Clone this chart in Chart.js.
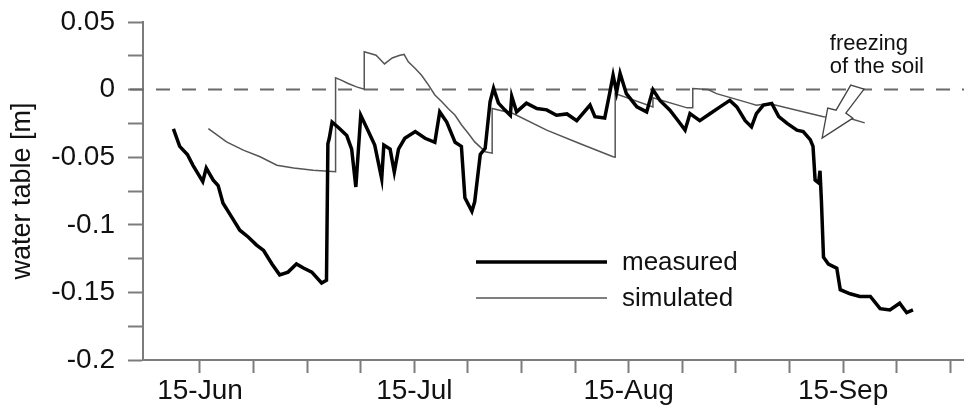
<!DOCTYPE html>
<html>
<head>
<meta charset="utf-8">
<script src="https://cdn.jsdelivr.net/npm/chart.js@4.4.1/dist/chart.umd.min.js"></script>
<style>
  html, body { margin: 0; padding: 0; background: #fff; }
  #wrap { width: 964px; height: 410px; }
</style>
</head>
<body>
<div id="wrap"><canvas id="chart" width="964" height="410"></canvas></div>
<script>
// x = days counted from 1-Jun
const xTicks = [14, 21.67, 29.33, 37, 44.67, 52.33, 60, 67.67, 75.33, 83, 90.67, 98.33, 106, 113.67, 121.33];
const xTickLabels = ["15-Jun", "", "", "", "15-Jul", "", "", "", "15-Aug", "", "", "", "15-Sep", "", ""];
const yTicks = [-0.2, -0.175, -0.15, -0.125, -0.1, -0.075, -0.05, -0.025, 0, 0.025, 0.05];
const yTickLabels = ["-0.2", "", "-0.15", "", "-0.1", "", "-0.05", "", "0", "", "0.05"];

const measuredDay = [
  10.2, 11.1, 12.2, 13.0, 14.4, 14.9, 15.9, 16.6, 17.3, 18.5, 19.7, 20.9, 22.1, 23.1, 24.3, 25.4,
  26.6, 27.8, 28.8, 30.0, 31.4, 32.1, 32.3, 32.5, 32.9, 33.8, 35.0, 35.7, 36.3, 37.0, 38.1, 39.0,
  40.0, 40.3, 41.2, 41.8, 42.4, 43.3, 44.8, 46.2, 47.6, 48.3, 49.3, 50.5, 51.4, 51.9, 52.9, 53.3,
  54.1, 54.8, 55.5, 56.0, 56.7, 57.6, 58.4, 58.6, 59.3, 60.7, 62.2, 63.6, 65.0, 66.5, 67.9, 69.8,
  70.5, 71.9, 72.6, 73.1, 73.6, 74.1, 75.0, 76.5, 77.9, 78.8, 79.8, 81.2, 82.4, 83.4, 84.1, 85.5,
  87.0, 88.4, 89.8, 90.8, 92.0, 92.9, 93.6, 94.6, 95.8, 96.8, 98.0, 99.4, 100.3, 101.3, 101.7, 102.0,
  102.5, 102.7, 102.9, 103.2, 103.9, 105.1, 105.6, 107.0, 108.4, 109.9, 111.3, 112.7, 114.1, 115.1, 116.0
];
const measuredLevel = [
  -0.029, -0.042, -0.048, -0.056, -0.068, -0.058, -0.067, -0.071, -0.084, -0.094, -0.104, -0.109, -0.115, -0.119, -0.129, -0.137,
  -0.135, -0.129, -0.132, -0.135, -0.143, -0.141, -0.040, -0.036, -0.024, -0.028, -0.034, -0.044, -0.072, -0.019, -0.031, -0.041,
  -0.066, -0.041, -0.044, -0.061, -0.044, -0.036, -0.031, -0.036, -0.039, -0.0165, -0.024, -0.039, -0.042, -0.080, -0.090, -0.083,
  -0.048, -0.0435, -0.009, 0.001, -0.010, -0.015, -0.019, -0.005, -0.0165, -0.010, -0.014, -0.015, -0.019, -0.018, -0.023, -0.0115,
  -0.020, -0.021, -0.003, 0.0106, -0.002, 0.012, -0.003, -0.0128, -0.0165, 0.000, -0.008, -0.015, -0.023, -0.030, -0.0177, -0.023,
  -0.0177, -0.0128, -0.008, -0.0128, -0.023, -0.0276, -0.0177, -0.0115, -0.0103, -0.020, -0.025, -0.030, -0.031, -0.037, -0.042, -0.067,
  -0.069, -0.060, -0.082, -0.124, -0.129, -0.132, -0.148, -0.151, -0.153, -0.153, -0.162, -0.163, -0.158, -0.165, -0.163
];

const simulatedDay = [
  15.2, 17.8, 20.2, 22.6, 25.0, 27.4, 30.2, 33.4, 33.4, 34.2, 35.2, 36.4, 37.5, 37.5, 39.2, 40.4,
  41.5, 42.6, 43.2, 43.8, 44.8, 45.7, 46.7, 47.6, 48.6, 49.5, 50.5, 51.4, 52.4, 53.3, 54.3, 54.8,
  55.8, 55.8, 58.8, 63.6, 68.4, 73.1, 73.4, 73.4, 78.8, 78.8, 83.7, 84.5, 84.5, 86.7, 87.9, 92.6,
  93.6, 95.4, 103.2, 107.0, 109.1
];
const simulatedLevel = [
  -0.0288, -0.0387, -0.0448, -0.0497, -0.0559, -0.058, -0.0596, -0.0608, 0.0087, 0.007, 0.0045, 0.002, 0.0003, 0.028, 0.0254, 0.019,
  0.0234, 0.0254, 0.026, 0.0205, 0.0156, 0.0106, 0.0033, -0.004, -0.009, -0.014, -0.019, -0.026, -0.0325, -0.0387, -0.0435, -0.046,
  -0.047, -0.014, -0.0177, -0.030, -0.040, -0.0497, -0.050, -0.003, -0.0128, -0.006, -0.0135, -0.0135, 0.0008, 0.0, -0.003, -0.010,
  -0.0115, -0.0103, -0.020, -0.0214, -0.0246
];

// "freezing of the soil" arrow outline
const arrowDay = [103.0, 103.8, 105.0, 107.1, 109.0, 106.4, 107.4];
const arrowLevel = [-0.0359, -0.0137, -0.0152, 0.0033, 0.0003, -0.0174, -0.0211];

const AXIS_GREY = "#7c7c7c";
const FONT = "'Liberation Sans', Arial, Helvetica, sans-serif";

const toPoints = (xs, ys) => xs.map((x, i) => ({ x, y: ys[i] }));

/* zero line, legend and annotation */
const extras = {
  id: "extras",
  beforeDatasetsDraw(chart) {
    const { ctx, chartArea, scales } = chart;
    const y0 = scales.y.getPixelForValue(0);
    ctx.save();
    ctx.strokeStyle = "#6a6a6a";
    ctx.lineWidth = 2;
    ctx.setLineDash([14, 12]);
    ctx.beginPath();
    ctx.moveTo(chartArea.left - 13, y0);
    ctx.lineTo(chartArea.right, y0);
    ctx.stroke();
    ctx.restore();
  },
  afterDatasetsDraw(chart) {
    const { ctx, chartArea, scales } = chart;
    const x = scales.x, y = scales.y;
    ctx.save();

    // arrow
    ctx.beginPath();
    arrowDay.forEach((d, i) => {
      const px = x.getPixelForValue(d), py = y.getPixelForValue(arrowLevel[i]);
      i === 0 ? ctx.moveTo(px, py) : ctx.lineTo(px, py);
    });
    ctx.closePath();
    ctx.fillStyle = "#fff";
    ctx.fill();
    ctx.strokeStyle = "#444";
    ctx.lineWidth = 1.3;
    ctx.stroke();

    ctx.fillStyle = "#111";
    ctx.font = "22px " + FONT;
    ctx.textAlign = "left";
    ctx.textBaseline = "alphabetic";
    ctx.fillText("freezing", x.getPixelForValue(104.1), y.getPixelForValue(0.0296));
    ctx.fillText("of the soil", x.getPixelForValue(104.1), y.getPixelForValue(0.0123));

    // legend
    const lx0 = chartArea.left + 333, lx1 = chartArea.left + 464;
    const rows = [chartArea.top + 240, chartArea.top + 276];
    chart.data.datasets.forEach((ds, i) => {
      ctx.strokeStyle = ds.borderColor;
      ctx.lineWidth = ds.borderWidth;
      ctx.beginPath();
      ctx.moveTo(lx0, rows[i]);
      ctx.lineTo(lx1, rows[i]);
      ctx.stroke();
      ctx.fillStyle = "#111";
      ctx.font = "26px " + FONT;
      ctx.textBaseline = "middle";
      ctx.fillText(ds.label, chartArea.left + 479, rows[i] + 1);
    });
    ctx.restore();
  }
};

new Chart(document.getElementById("chart"), {
  type: "line",
  data: {
    datasets: [
      {
        label: "measured",
        data: toPoints(measuredDay, measuredLevel),
        borderColor: "#000",
        borderWidth: 3.5,
        pointRadius: 0,
        tension: 0
      },
      {
        label: "simulated",
        data: toPoints(simulatedDay, simulatedLevel),
        borderColor: "#555",
        borderWidth: 1.5,
        pointRadius: 0,
        tension: 0
      }
    ]
  },
  options: {
    responsive: false,
    animation: false,
    layout: { padding: { top: 22, right: 0, bottom: 0, left: 0 } },
    plugins: { legend: { display: false }, tooltip: { enabled: false } },
    scales: {
      x: {
        type: "linear",
        min: 5.85,
        max: 123.3,
        afterBuildTicks: s => { s.ticks = xTicks.map(v => ({ value: v })); },
        afterFit: s => { s.height = 50; s.paddingLeft = 0; s.paddingRight = 0; },
        ticks: {
          autoSkip: false,
          maxRotation: 0,
          padding: 1,
          color: "#111",
          font: { family: FONT, size: 28 },
          callback: (v, i) => xTickLabels[i]
        },
        grid: { drawOnChartArea: false, tickLength: 13, tickColor: AXIS_GREY, tickWidth: 2 },
        border: { color: AXIS_GREY, width: 2 }
      },
      y: {
        min: -0.2,
        max: 0.05,
        afterBuildTicks: s => { s.ticks = yTicks.map(v => ({ value: v })); },
        afterFit: s => { s.width = 143; s.paddingTop = 0; s.paddingBottom = 0; },
        ticks: {
          autoSkip: false,
          padding: 13,
          color: "#111",
          font: { family: FONT, size: 28 },
          callback: (v, i) => yTickLabels[i]
        },
        grid: { drawOnChartArea: false, tickLength: 15, tickColor: AXIS_GREY, tickWidth: 2 },
        border: { color: AXIS_GREY, width: 2 },
        title: {
          display: true,
          text: "water table [m]",
          color: "#111",
          font: { family: FONT, size: 27 },
          padding: { top: 6, bottom: 0 }
        }
      }
    }
  },
  plugins: [extras]
});
</script>
</body>
</html>
